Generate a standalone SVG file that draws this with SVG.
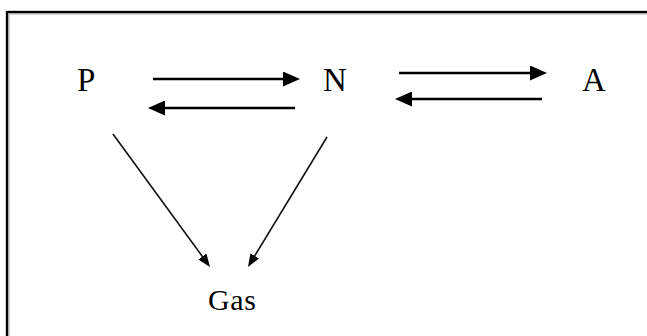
<svg xmlns="http://www.w3.org/2000/svg" width="647" height="336" viewBox="0 0 647 336">
<style>
.lbl{font-family:"Liberation Serif","DejaVu Serif","Times New Roman",serif;font-size:33px;fill:#000}
.gas{font-family:"Liberation Serif","DejaVu Serif","Times New Roman",serif;font-size:30px;fill:#000}
.big{stroke:#000;stroke-width:2.6;fill:none}
.thin{stroke:#111;stroke-width:1.6;fill:none}
</style>
<defs>
<marker id="ah" markerUnits="userSpaceOnUse" markerWidth="17" markerHeight="15" refX="8" refY="7.5" orient="auto" viewBox="0 0 17 15">
<path d="M0,0 L17,7.5 L0,15 z" fill="#000"/>
</marker>
<marker id="as" markerUnits="userSpaceOnUse" markerWidth="13" markerHeight="10" refX="6" refY="5" orient="auto" viewBox="0 0 13 10">
<path d="M0,0 L13,5 L0,10 z" fill="#000"/>
</marker>
</defs>
<rect width="647" height="336" fill="#fff"/>
<g id="frame">
<path d="M647,12.5 H7.5 V336" stroke="#aaa" stroke-width="4" fill="none"/>
<path d="M647,12 H7 V336" stroke="#000" stroke-width="2" fill="none"/>
</g>
<g id="P"><text class="lbl" x="77" y="91" font-family="Liberation Serif, serif">P</text></g>
<g id="N"><text class="lbl" x="323" y="91" font-family="Liberation Serif, serif">N</text></g>
<g id="A"><text class="lbl" x="582" y="91" font-family="Liberation Serif, serif">A</text></g>
<g id="Gas"><text class="gas" x="208" y="310" font-family="Liberation Serif, serif" textLength="48" lengthAdjust="spacing">Gas</text></g>
<g id="connectors">
<line class="big" x1="153" y1="79" x2="291" y2="79" marker-end="url(#ah)"/>
<line class="big" x1="295" y1="108" x2="157" y2="108" marker-end="url(#ah)"/>
<line class="big" x1="399" y1="73" x2="538" y2="73" marker-end="url(#ah)"/>
<line class="big" x1="542" y1="99" x2="404" y2="99" marker-end="url(#ah)"/>
<line class="thin" x1="113" y1="134" x2="205.9" y2="261.3" marker-end="url(#as)"/>
<line class="thin" x1="327" y1="137" x2="251.6" y2="261" marker-end="url(#as)"/>
</g>
</svg>
